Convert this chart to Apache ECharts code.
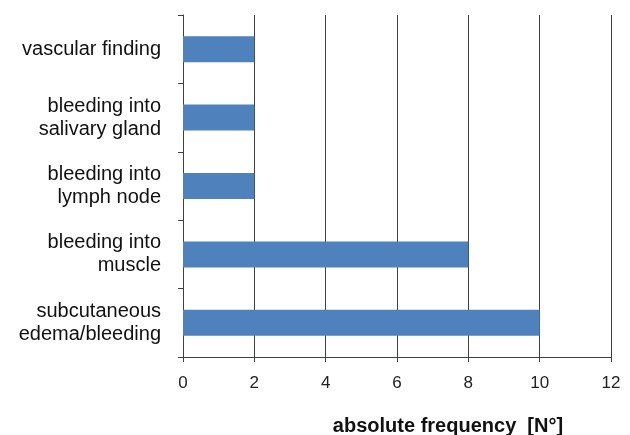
<!DOCTYPE html>
<html><head><meta charset="utf-8">
<script src="https://cdn.jsdelivr.net/npm/echarts@6/dist/echarts.min.js"></script>
<style>html,body{margin:0;padding:0;background:#fff}#c{width:630px;height:435px}</style>
</head><body><div id="c"></div>
<script>
const categories = ["subcutaneous\nedema/bleeding", "bleeding into\nmuscle", "bleeding into\nlymph node", "bleeding into\nsalivary gland", "vascular finding"];
const values = [10, 8, 2, 2, 2];
const xTicks = { min: 0, max: 12, interval: 2 };
const axisTitle = "absolute frequency  [N°]";

const chart = echarts.init(document.getElementById('c'));
chart.setOption({
  animation: false,
  textStyle: { fontFamily: 'Liberation Sans, Arial, sans-serif' },
  grid: { left: 183, right: 19, top: 15, bottom: 78, containLabel: false, outerBoundsMode: 'none' },
  xAxis: {
    type: 'value', min: xTicks.min, max: xTicks.max, interval: xTicks.interval,
    axisLine: { show: true, lineStyle: { color: '#404040', width: 1 } },
    axisTick: { show: true, length: 5, lineStyle: { color: '#404040' } },
    splitLine: { show: true, lineStyle: { color: '#404040', width: 1 } },
    axisLabel: { color: '#222', fontSize: 17, margin: 18 },
    name: axisTitle, nameLocation: 'middle', nameGap: 59,
    nameTextStyle: { fontSize: 20, fontWeight: 'bold', color: '#111', padding: [0, 0, 0, 102] }
  },
  yAxis: {
    type: 'category', data: categories,
    axisLine: { show: true, lineStyle: { color: '#404040', width: 1 } },
    axisTick: { show: true, length: 5, alignWithLabel: false, lineStyle: { color: '#404040' } },
    axisLabel: { color: '#111', fontSize: 20, margin: 22, lineHeight: 23, align: 'right' }
  },
  series: [{
    type: 'bar', data: values, barWidth: 26,
    itemStyle: { color: '#4f81bd' }
  }]
});
</script></body></html>
